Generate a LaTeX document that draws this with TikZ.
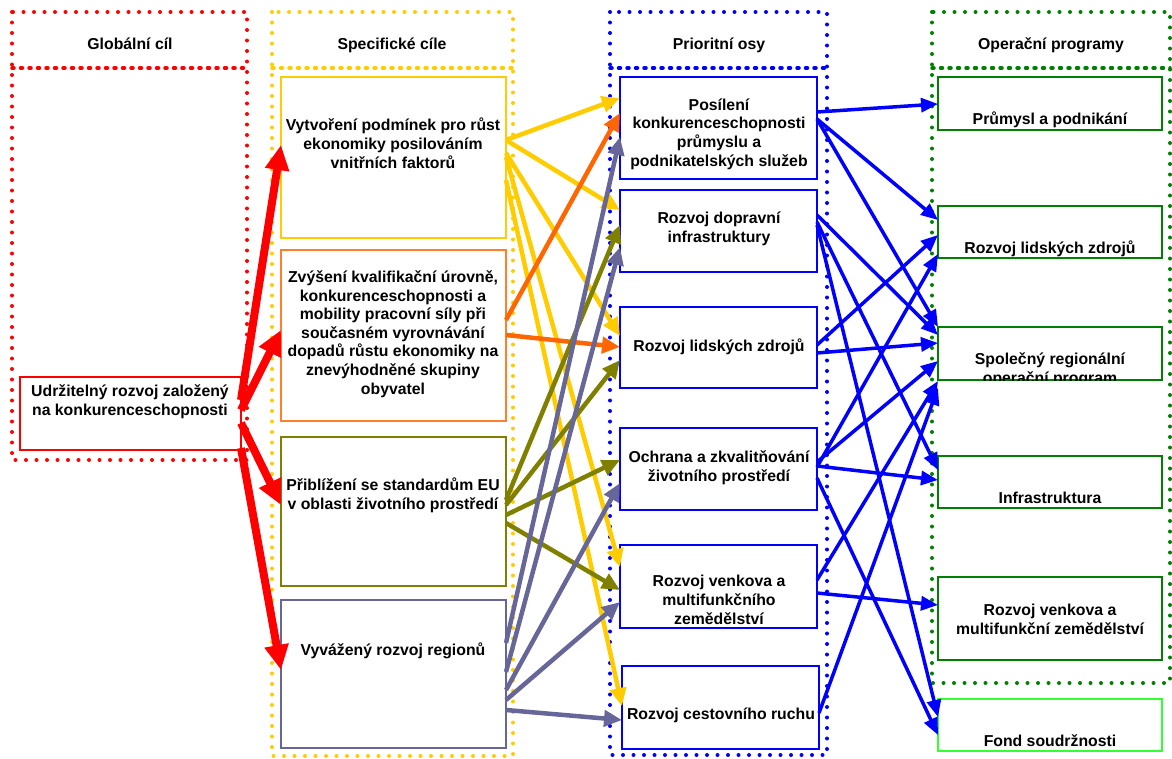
\documentclass[tikz,border=0pt]{standalone}
\usepackage{fontspec}
\setmainfont{Liberation Sans}
\usetikzlibrary{arrows.meta}
\definecolor{cilred}{HTML}{FF0000}
\definecolor{cilyellow}{HTML}{FFCC00}
\definecolor{cilorange}{HTML}{FF6600}
\definecolor{ciledge}{HTML}{FF7F2A}
\definecolor{ciloliv}{HTML}{808000}
\definecolor{cilslate}{HTML}{666699}
\definecolor{osablue}{HTML}{0000FF}
\definecolor{opgreen}{HTML}{008000}
\definecolor{fondgreen}{HTML}{33FF33}
\begin{document}
\begin{tikzpicture}[x=1pt,y=-1pt,
  frame/.style={line width=4pt,line cap=round,dash pattern=on 0pt off 10.5pt},
  divider/.style={line width=3.5pt,line cap=round,dash pattern=on 2pt off 6.5pt},
  box/.style={draw,fill=white,line width=2pt,inner sep=0pt,outer sep=0pt},
  txt/.style={font=\fontsize{15.8}{18.6}\selectfont\bfseries,align=center,anchor=base,inner sep=0pt},
  redarr/.style={draw=cilred,line width=8pt,-{Triangle[length=25pt,width=23pt]}},
  midarr/.style={line width=4.5pt,-{Triangle[length=18pt,width=16pt]}},
  bluearr/.style={draw=osablue,line width=3.5pt,-{Triangle[length=17pt,width=14pt]}}]
  \useasboundingbox (0,0) rectangle (1172,758);

  % column frames
  \draw[frame,cilred] (12,12) rectangle (247,460);
  \draw[divider,cilred] (12,68) -- (247,68);
  \draw[frame,cilyellow] (272,12) rectangle (513,756);
  \draw[divider,cilyellow] (272,68) -- (513,68);
  \draw[frame,osablue] (610,12) rectangle (827,755);
  \draw[divider,osablue] (610,68) -- (827,68);
  \draw[frame,opgreen] (932,12) rectangle (1170,683);
  \draw[divider,opgreen] (932,68) -- (1170,68);
  \node[txt] (hglob) at (130,49) {Globální cíl};
  \node[txt] (hspec) at (392,49) {Specifické cíle};
  \node[txt] (hosy) at (719,49) {Prioritní osy};
  \node[txt] (hop) at (1051,49) {Operační programy};

  % boxes
  \node[box,draw=cilred,minimum width=221pt,minimum height=73pt] (goal) at (130.5,413.5) {};
  \node[box,draw=cilyellow,minimum width=225pt,minimum height=161pt] (sc1) at (393.5,157.5) {};
  \node[box,draw=ciledge,minimum width=225pt,minimum height=171pt] (sc2) at (393.5,335.5) {};
  \node[box,draw=ciloliv,minimum width=225pt,minimum height=149pt] (sc3) at (393.5,511.5) {};
  \node[box,draw=cilslate,minimum width=225pt,minimum height=148pt] (sc4) at (393.5,674) {};
  \node[box,draw=osablue,minimum width=197pt,minimum height=102pt] (p1) at (718.5,128) {};
  \node[box,draw=osablue,minimum width=197pt,minimum height=82pt] (p2) at (718.5,231) {};
  \node[box,draw=osablue,minimum width=197pt,minimum height=81pt] (p3) at (718.5,347.5) {};
  \node[box,draw=osablue,minimum width=197pt,minimum height=82pt] (p4) at (718.5,469) {};
  \node[box,draw=osablue,minimum width=197pt,minimum height=83pt] (p5) at (718.5,586.5) {};
  \node[box,draw=osablue,minimum width=197pt,minimum height=83pt] (p6) at (720.5,707.5) {};
  \node[box,draw=opgreen,minimum width=224pt,minimum height=53pt] (g1) at (1050,103.5) {};
  \node[box,draw=opgreen,minimum width=224pt,minimum height=52pt] (g2) at (1050,232) {};
  \node[box,draw=opgreen,minimum width=224pt,minimum height=53pt] (g3) at (1050,353.5) {};
  \node[box,draw=opgreen,minimum width=224pt,minimum height=52pt] (g4) at (1050,482) {};
  \node[box,draw=opgreen,minimum width=224pt,minimum height=83pt] (g5) at (1050,618.5) {};
  \node[box,draw=fondgreen,minimum width=224pt,minimum height=52pt] (fond) at (1050,725) {};

  % texts
  \node[txt] (goalt) at (130,415) {Udržitelný rozvoj založený\\na konkurenceschopnosti};
  \node[txt] (sc1t) at (393,168) {Vytvoření podmínek pro růst\\ekonomiky posilováním\\vnitřních faktorů};
  \node[txt] (sc2t) at (393,394) {Zvýšení kvalifikační úrovně,\\konkurenceschopnosti a\\mobility pracovní síly při\\současném vyrovnávání\\dopadů růstu ekonomiky na\\znevýhodněné skupiny\\obyvatel};
  \node[txt] (sc3t) at (393,509) {Přiblížení se standardům EU\\v oblasti životního prostředí};
  \node[txt] (sc4t) at (393,655) {Vyvážený rozvoj regionů};
  \node[txt] (p1t) at (719,166) {Posílení\\konkurenceschopnosti\\průmyslu a\\podnikatelských služeb};
  \node[txt] (p2t) at (719,242) {Rozvoj dopravní\\infrastruktury};
  \node[txt] (p3t) at (719,351) {Rozvoj lidských zdrojů};
  \node[txt] (p4t) at (719,481) {Ochrana a zkvalitňování\\životního prostředí};
  \node[txt] (p5t) at (719,624) {Rozvoj venkova a\\multifunkčního\\zemědělství};
  \node[txt] (p6t) at (721,719) {Rozvoj cestovního ruchu};
  \node[txt] (g1t) at (1050,124) {Průmysl a podnikání};
  \node[txt] (g2t) at (1050,253) {Rozvoj lidských zdrojů};
  \begin{scope}
    \clip (g3.north west) rectangle (g3.south east);
    \node[txt] (g3t) at (1050,383) {Společný regionální\\operační program};
  \end{scope}
  \node[txt] (g4t) at (1050,503) {Infrastruktura};
  \node[txt] (g5t) at (1050,634) {Rozvoj venkova a\\multifunkční zemědělství};
  \node[txt] (fondt) at (1050,746) {Fond soudržnosti};

  % arrows
  \foreach \ys/\t/\yt in {400/sc1/145, 410/sc2/330, 423/sc3/505, 448/sc4/670}
    \draw[redarr] (goal.east |- 0,\ys) -- (\t.west |- 0,\yt);
  \foreach \ys/\t/\yt in {140/p1/98, 140/p2/210, 153/p3/336, 157/p5/567, 180/p6/706}
    \draw[midarr,draw=cilyellow] (sc1.east |- 0,\ys) -- (\t.west |- 0,\yt);
  \foreach \ys/\t/\yt in {320/p1/113, 335/p3/347}
    \draw[midarr,draw=cilorange] (sc2.east |- 0,\ys) -- (\t.west |- 0,\yt);
  \foreach \ys/\t/\yt in {500/p2/225, 505/p3/360, 515/p4/460, 523/p5/590}
    \draw[midarr,draw=ciloliv] (sc3.east |- 0,\ys) -- (\t.west |- 0,\yt);
  \foreach \ys/\t/\yt in {643/p1/137, 672/p2/247, 690/p4/483, 700/p5/602, 710/p6/720}
    \draw[midarr,draw=cilslate] (sc4.east |- 0,\ys) -- (\t.west |- 0,\yt);
  \foreach \s/\ys/\t/\yt in {p1/112/g1/104, p1/119/g2/220, p1/119/g3/327,
      p2/215/g3/335, p2/222/g4/470, p2/225/fond/717,
      p3/345/g2/235, p3/353/g3/343,
      p4/467/g2/254, p4/462/g3/361, p4/466/g4/480, p4/478/fond/735,
      p5/580/g3/381, p5/593/g5/605, p6/713/g3/388}
    \draw[bluearr] (\s.east |- 0,\ys) -- (\t.west |- 0,\yt);
\end{tikzpicture}
\end{document}
